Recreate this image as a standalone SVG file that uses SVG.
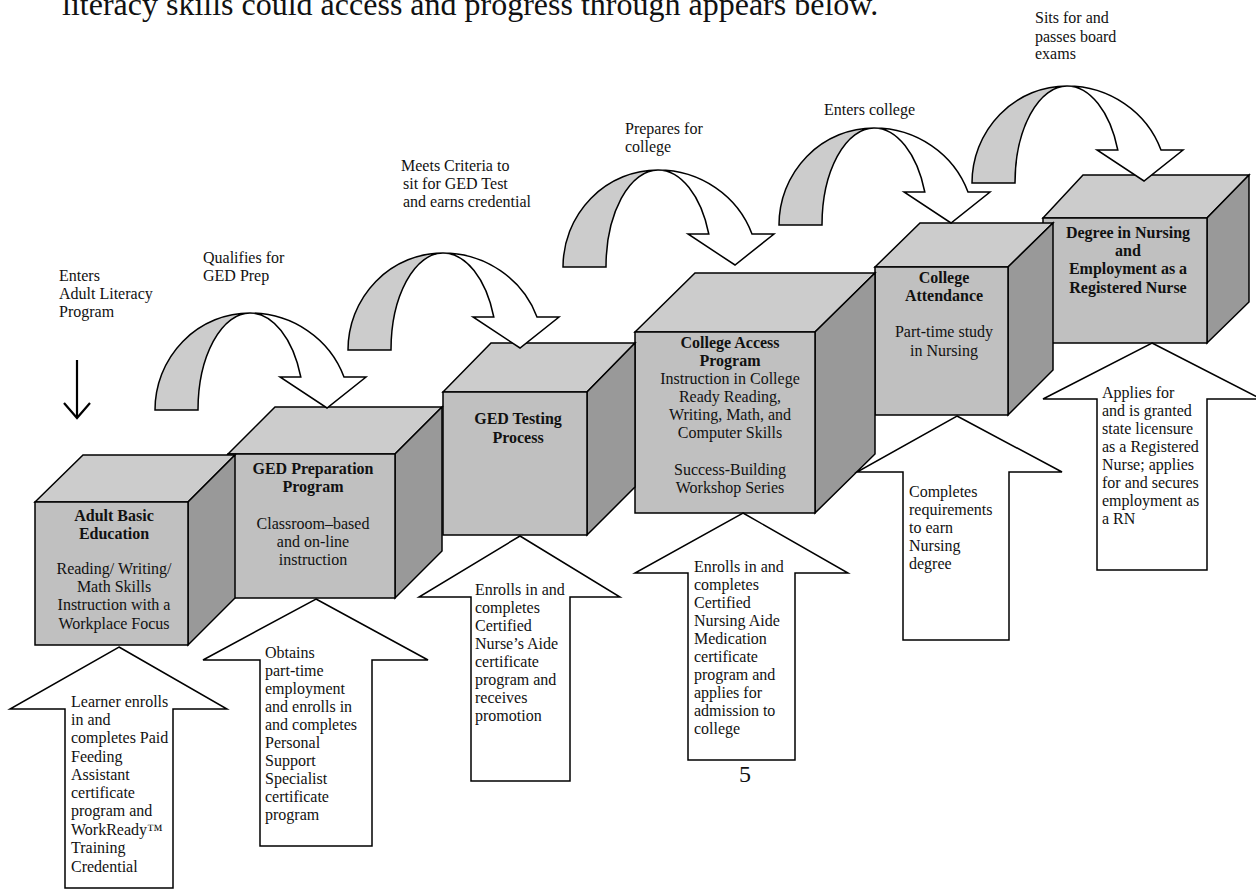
<svg xmlns="http://www.w3.org/2000/svg" width="1256" height="890" viewBox="0 0 1256 890">
<style>
text{font-family:"Liberation Serif","Times New Roman",serif;font-size:16px;fill:#111}
.b{font-weight:bold}
.c{text-anchor:middle}
.front{fill:#c0c0c0;stroke:#000;stroke-width:1.5;stroke-linejoin:miter}
.top{fill:#cccccc;stroke:#000;stroke-width:1.5}
.side{fill:#999999;stroke:#000;stroke-width:1.5}
.blk{fill:#fff;stroke:#000;stroke-width:1.5}
.rg{fill:#cccccc;stroke:#000;stroke-width:1.5}
.rw{fill:#fff;stroke:#000;stroke-width:1.5}
</style>
<defs>
<g id="curve">
<path class="rg" d="M -95,0 A 95 97 0 0 1 0,-97 A 52 97 0 0 0 -52,0 Z"/>
<path class="rw" d="M 0,-97 A 100 97 0 0 1 94,-33 L 116,-33 L 77,-2 L 30,-33 L 50.8,-33 A 54 97 0 0 0 0,-97 Z"/>
</g>
</defs>
<rect width="1256" height="890" fill="#fff"/>
<text x="62" y="15" style="font-size:32px">literacy skills could access and progress through appears below.</text>

<g id="cube6">
<polygon class="top" points="1043,218 1083,175 1249,175 1207,218"/>
<polygon class="side" points="1207,218 1249,175 1249,302 1207,343"/>
<rect class="front" x="1043" y="218" width="164" height="125"/>
<text class="b c" x="1128" y="238">Degree in Nursing</text>
<text class="b c" x="1128" y="256">and</text>
<text class="b c" x="1128" y="274">Employment as a</text>
<text class="b c" x="1128" y="293">Registered Nurse</text>
</g>
<g id="cube5">
<polygon class="top" points="875,267 920,223 1053,223 1008,267"/>
<polygon class="side" points="1008,267 1053,223 1053,370 1008,415"/>
<rect class="front" x="875" y="267" width="133" height="148"/>
<text class="b c" x="944" y="283">College</text>
<text class="b c" x="944" y="301">Attendance</text>
<text class="c" x="944" y="337">Part-time study</text>
<text class="c" x="944" y="356">in Nursing</text>
</g>
<g id="cube4">
<polygon class="top" points="635,332 695,273 875,273 815,332"/>
<polygon class="side" points="815,332 875,273 875,454 815,513"/>
<rect class="front" x="635" y="332" width="180" height="181"/>
<text class="b c" x="730" y="348">College Access</text>
<text class="b c" x="730" y="366">Program</text>
<text class="c" x="730" y="384">Instruction in College</text>
<text class="c" x="730" y="402">Ready Reading,</text>
<text class="c" x="730" y="420">Writing, Math, and</text>
<text class="c" x="730" y="438">Computer Skills</text>
<text class="c" x="730" y="475">Success-Building</text>
<text class="c" x="730" y="493">Workshop Series</text>
</g>
<g id="cube3">
<polygon class="top" points="443,392 491,343 635,343 587,392"/>
<polygon class="side" points="587,392 635,343 635,487 587,535"/>
<rect class="front" x="443" y="392" width="144" height="143"/>
<text class="b c" x="518" y="424">GED Testing</text>
<text class="b c" x="518" y="443">Process</text>
</g>
<g id="cube2">
<polygon class="top" points="228,454 275,407 442,407 395,454"/>
<polygon class="side" points="395,454 442,407 442,551 395,598"/>
<rect class="front" x="228" y="454" width="167" height="144"/>
<text class="b c" x="313" y="474">GED Preparation</text>
<text class="b c" x="313" y="492">Program</text>
<text class="c" x="313" y="529">Classroom–based</text>
<text class="c" x="313" y="547">and on-line</text>
<text class="c" x="313" y="565">instruction</text>
</g>
<g id="cube1">
<polygon class="top" points="35,502 83,455 235,455 188,502"/>
<polygon class="side" points="188,502 235,455 235,598 188,645"/>
<rect class="front" x="35" y="502" width="153" height="143"/>
<text class="b c" x="114" y="521">Adult Basic</text>
<text class="b c" x="114" y="539">Education</text>
<text class="c" x="114" y="574">Reading/ Writing/</text>
<text class="c" x="114" y="592">Math Skills</text>
<text class="c" x="114" y="610">Instruction with a</text>
<text class="c" x="114" y="629">Workplace Focus</text>
</g>

<g id="step1">
<polygon class="blk" points="119,647 227,709 173,709 173,888 65,888 65,709 10,709"/>
<text x="71" y="707">Learner enrolls</text>
<text x="71" y="725">in and</text>
<text x="71" y="743">completes Paid</text>
<text x="71" y="762">Feeding</text>
<text x="71" y="780">Assistant</text>
<text x="71" y="798">certificate</text>
<text x="71" y="816">program and</text>
<text x="71" y="835">WorkReady™</text>
<text x="71" y="853">Training</text>
<text x="71" y="872">Credential</text>
</g>
<g id="step2">
<polygon class="blk" points="316,599 428,660 372,660 372,846 260,846 260,660 203,660"/>
<text x="265" y="658">Obtains</text>
<text x="265" y="676">part-time</text>
<text x="265" y="694">employment</text>
<text x="265" y="712">and enrolls in</text>
<text x="265" y="730">and completes</text>
<text x="265" y="748">Personal</text>
<text x="265" y="766">Support</text>
<text x="265" y="784">Specialist</text>
<text x="265" y="802">certificate</text>
<text x="265" y="820">program</text>
</g>
<g id="step3">
<polygon class="blk" points="520,536 620,597 570,597 570,781 471,781 471,597 419,597"/>
<text x="475" y="595">Enrolls in and</text>
<text x="475" y="613">completes</text>
<text x="475" y="631">Certified</text>
<text x="475" y="649">Nurse’s Aide</text>
<text x="475" y="667">certificate</text>
<text x="475" y="685">program and</text>
<text x="475" y="703">receives</text>
<text x="475" y="721">promotion</text>
</g>
<g id="step4">
<polygon class="blk" points="743,513 848,573 795,573 795,760 688,760 688,573 635,573"/>
<text x="694" y="572">Enrolls in and</text>
<text x="694" y="590">completes</text>
<text x="694" y="608">Certified</text>
<text x="694" y="626">Nursing Aide</text>
<text x="694" y="644">Medication</text>
<text x="694" y="662">certificate</text>
<text x="694" y="680">program and</text>
<text x="694" y="698">applies for</text>
<text x="694" y="716">admission to</text>
<text x="694" y="734">college</text>
</g>
<g id="step5">
<polygon class="blk" points="957,416 1062,472 1009,472 1009,640 903,640 903,472 857,472"/>
<text x="909" y="497">Completes</text>
<text x="909" y="515">requirements</text>
<text x="909" y="533">to earn</text>
<text x="909" y="551">Nursing</text>
<text x="909" y="569">degree</text>
</g>
<g id="step6">
<polygon class="blk" points="1152,343 1261,399 1207,399 1207,570 1097,570 1097,399 1043,399"/>
<text x="1102" y="398">Applies for</text>
<text x="1102" y="416">and is granted</text>
<text x="1102" y="434">state licensure</text>
<text x="1102" y="452">as a Registered</text>
<text x="1102" y="470">Nurse; applies</text>
<text x="1102" y="488">for and secures</text>
<text x="1102" y="506">employment as</text>
<text x="1102" y="524">a RN</text>
</g>

<g id="connectors">
<line x1="77" y1="360" x2="77" y2="417" stroke="#000" stroke-width="2.2"/>
<polyline points="64,403 77,418 90,403" fill="none" stroke="#000" stroke-width="2.2"/>
<use href="#curve" transform="translate(250,410)"/>
<use href="#curve" transform="translate(443,350)"/>
<use href="#curve" transform="translate(658,267)"/>
<use href="#curve" transform="translate(874,225)"/>
<use href="#curve" transform="translate(1067,183)"/>
</g>

<g id="labels">
<text x="59" y="281">Enters</text>
<text x="59" y="299">Adult Literacy</text>
<text x="59" y="317">Program</text>
<text x="203" y="263">Qualifies for</text>
<text x="203" y="281">GED Prep</text>
<text x="401" y="171">Meets Criteria to</text>
<text x="403" y="189">sit for GED Test</text>
<text x="403" y="207">and earns credential</text>
<text x="625" y="134">Prepares for</text>
<text x="625" y="152">college</text>
<text x="824" y="115">Enters college</text>
<text x="1035" y="23">Sits for and</text>
<text x="1035" y="42">passes board</text>
<text x="1035" y="59">exams</text>
<text x="745" y="782" class="c" style="font-size:24px">5</text>
</g>
</svg>
